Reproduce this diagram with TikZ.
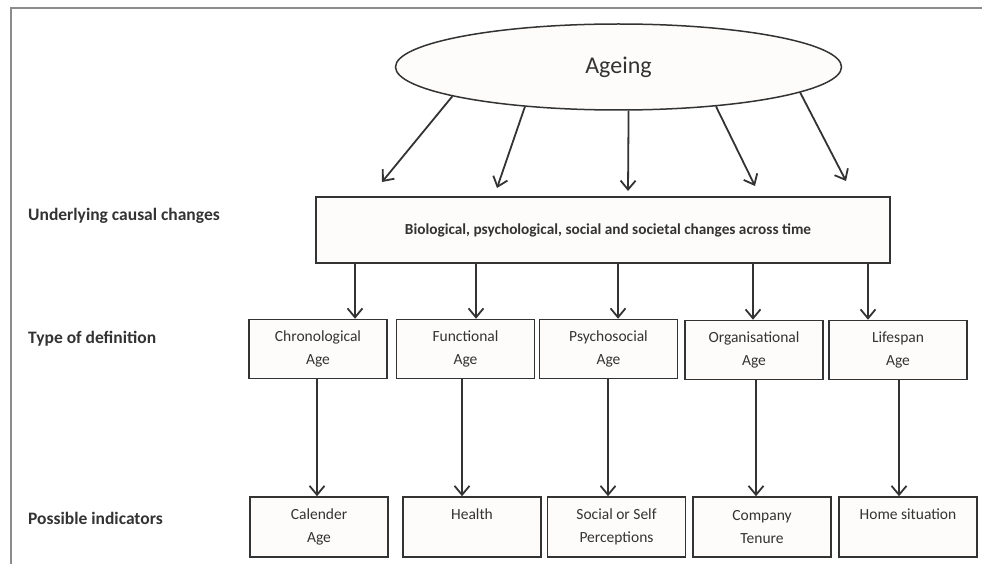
\documentclass[tikz,border=0pt]{standalone}
\usepackage{fontspec}
\setmainfont{Carlito}
\usetikzlibrary{shapes.geometric,arrows.meta}
\definecolor{ink}{HTML}{333333}
\definecolor{paper}{HTML}{FDFCFA}
\definecolor{framegray}{HTML}{8C8C8C}
\begin{document}
\begin{tikzpicture}[x=1pt,y=-1pt,
  box/.style={draw=ink, line width=1.5pt, fill=paper, align=center,
    font=\fontsize{15.5}{23}\selectfont, text=ink, inner sep=0pt,
    minimum width=138pt, minimum height=59pt},
  lbl/.style={anchor=west, font=\bfseries\fontsize{17.5}{19}\selectfont, text=ink, inner sep=0pt},
  arr/.style={draw=ink, line width=1.8pt,
    -{Straight Barb[length=9pt,width=15pt,line width=1.8pt]}},
]
\useasboundingbox (0,0) rectangle (982,564);
\coordinate (fr) at (982,8);
\coordinate (fc) at (11,8);
\coordinate (fb) at (11,564);
\draw[framegray, line width=1.4pt] (fr) -- (fc) -- (fb);

% ellipse
\node[ellipse, draw=ink, line width=1.5pt, fill=paper, minimum width=446pt,
  minimum height=86pt, inner sep=0pt, text=ink,
  font=\fontsize{24}{24}\selectfont] (age) at (618.5,67) {Ageing};

% big box
\node[draw=ink, line width=1.5pt, fill=paper, minimum width=574pt, minimum height=66pt,
  inner sep=0pt, text=ink, font=\bfseries\fontsize{15.3}{17}\selectfont] (chg) at (603,230)
  {\hspace*{10pt}Biological, psychological, social and societal changes across time};

% row labels
\node[lbl] (l1) at (28,216) {Underlying causal changes};
\node[lbl] (l2) at (28,339) {Type of definition};
\node[lbl] (l3) at (28,518) {Possible indicators};

% type boxes
\node[box] (d1) at (318,349) {Chronological\\Age};
\node[box] (d2) at (465.5,349) {Functional\\Age};
\node[box] (d3) at (608.5,349) {Psychosocial\\Age};
\node[box] (d4) at (754,350) {Organisational\\Age};
\node[box] (d5) at (898,350) {Lifespan\\Age};

% indicator boxes
\node[box, minimum height=60pt] (i1) at (319,527) {Calender\\Age};
\node[box, minimum height=60pt] (i2) at (472,527) {Health\\\phantom{Age}};
\node[box, minimum height=60pt] (i3) at (616.5,527) {Social or Self\\Perceptions};
\node[box, minimum height=60pt] (i4) at (762,527) {Company\\Tenure};
\node[box, minimum height=60pt] (i5) at (908,527) {Home situation\\\phantom{Age}};

% arrows from ellipse
\coordinate (e1) at (382,182);
\coordinate (e2) at (497,188);
\coordinate (e3) at (628,191);
\coordinate (e4) at (755,186);
\coordinate (e5) at (846,181);
\draw[arr] (age.190) -- (e1);
\draw[arr] (age.203) -- (e2);
\draw[arr] (age.283) -- (e3);
\draw[arr] (age.338) -- (e4);
\draw[arr] (age.352) -- (e5);

% arrows big box -> type boxes
\coordinate (a1) at (355,0);
\coordinate (a2) at (476,0);
\coordinate (a3) at (618,0);
\coordinate (a4) at (753,0);
\coordinate (a5) at (868,0);
\draw[arr] (chg.south -| a1) -- (d1.north -| a1);
\draw[arr] (chg.south -| a2) -- (d2.north -| a2);
\draw[arr] (chg.south -| a3) -- (d3.north -| a3);
\draw[arr] (chg.south -| a4) -- (d4.north -| a4);
\draw[arr] (chg.south -| a5) -- (d5.north -| a5);

% arrows type -> indicator
\coordinate (b1) at (317,0);
\coordinate (b2) at (462,0);
\coordinate (b3) at (608,0);
\coordinate (b4) at (756,0);
\coordinate (b5) at (899,0);
\draw[arr] (d1.south -| b1) -- (i1.north -| b1);
\draw[arr] (d2.south -| b2) -- (i2.north -| b2);
\draw[arr] (d3.south -| b3) -- (i3.north -| b3);
\draw[arr] (d4.south -| b4) -- (i4.north -| b4);
\draw[arr] (d5.south -| b5) -- (i5.north -| b5);
\end{tikzpicture}
\end{document}
